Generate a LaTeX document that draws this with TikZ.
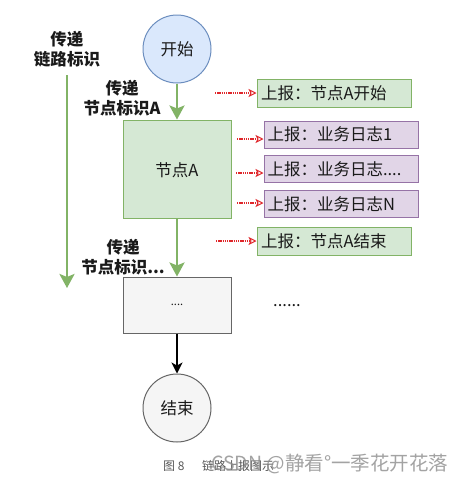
\documentclass[tikz,border=0pt]{standalone}
\usepackage{fontspec}
\setmainfont{Noto Sans CJK SC}
\usetikzlibrary{arrows.meta}
\definecolor{gfill}{HTML}{D5E8D4}
\definecolor{gline}{HTML}{82B366}
\definecolor{bfill}{HTML}{DAE8FC}
\definecolor{bline}{HTML}{6C8EBF}
\definecolor{pfill}{HTML}{E1D5E7}
\definecolor{pline}{HTML}{9673A6}
\definecolor{grfill}{HTML}{F5F5F5}
\definecolor{grline}{HTML}{666666}
\definecolor{redarr}{HTML}{E0262A}
\definecolor{txt}{HTML}{1A1A1A}
\begin{document}
\begin{tikzpicture}[x=1pt,y=-1pt,
  font=\fontsize{16.5}{18}\selectfont, text=txt,
  circ/.style={circle, minimum size=68pt, inner sep=0pt, line width=1pt},
  greport/.style={draw=gline, fill=gfill, line width=1pt, minimum width=154pt, minimum height=28pt, inner sep=0pt, text width=146pt, align=left},
  preport/.style={draw=pline, fill=pfill, line width=1pt, minimum width=154pt, minimum height=27pt, inner sep=0pt, text width=147pt, align=left},
  garrow/.style={draw=gline, line width=2.6pt, -{Stealth[length=14pt,width=15pt,inset=3pt]}},
  rarrow/.style={draw=redarr, line width=1.1pt, dash pattern=on 1.3pt off 0.9pt, -{Stealth[open,length=8pt,width=8pt,inset=2pt,sep=0pt,line width=1pt]}},
  lbl/.style={font=\fontsize{16.5}{20.5}\selectfont\bfseries, align=center, inner sep=0pt}
]
\useasboundingbox[fill=white] (0,0) rectangle (465,482);

% main flow
\node[circ, draw=bline, fill=bfill] (start) at (177,49) {开始};
\node[draw=gline, fill=gfill, line width=1pt, minimum width=108pt, minimum height=98pt, inner sep=0pt] (nodeA) at (177,169) {};
\node at (177,170) (nodeAtxt) {节点A};
\node[draw=grline, fill=grfill, line width=1pt, minimum width=108pt, minimum height=56pt, inner sep=0pt, font=\fontsize{11}{13}\selectfont] (dots) at (177,305) {....};
\node[circ, draw=grline, fill=grfill] (end) at (177,408) {结束};

\draw[garrow] (start) -- (nodeA);
\draw[garrow] (nodeA) -- (dots);
\draw[line width=1.3pt, -{Stealth[length=11pt,width=11pt,inset=3pt]}] (dots) -- (end);

% left arrow
\node[lbl] (linklbl) at (67,49) {传递\\链路标识};
\coordinate (lefttop) at (67,75);
\coordinate (leftbot) at (67,288);
\draw[garrow] (lefttop) -- (leftbot);

\node[lbl] (lblA) at (122,98) {传递\\节点标识A};
\node[lbl] (lblB) at (123,257) {传递\\节点标识...};

% report boxes
\node[greport] (r1) at (334,93) {上报：节点A开始};
\node[preport] (r2) at (341,134.5) {上报：业务日志1};
\node[preport] (r3) at (341,169) {上报：业务日志....};
\node[preport] (r4) at (341,204) {上报：业务日志N};
\node[greport] (r5) at (334,241) {上报：节点A结束};

\coordinate (a1) at (215,93);
\coordinate (a2) at (237,139);
\coordinate (a3) at (236,173);
\coordinate (a4) at (237,203);
\coordinate (a5) at (216,241);
\draw[rarrow] (a1) -- (a1 -| r1.west);
\draw[rarrow] (a2) -- (a2 -| r2.west);
\draw[rarrow] (a3) -- (a3 -| r3.west);
\draw[rarrow] (a4) -- (a4 -| r4.west);
\draw[rarrow] (a5) -- (a5 -| r5.west);

\node (more) at (287,306) {......};

% caption and watermark
\node[anchor=west, inner sep=0pt, text=black!65, font=\fontsize{12}{14}\selectfont] (fig) at (163,466) {图 8};
\node[anchor=west, inner sep=0pt, text=black!65, font=\fontsize{12}{14}\selectfont] (cap) at (202,466) {链路上报图示};
\node[anchor=west, inner sep=0pt, text=black!45, opacity=0.8, font=\fontsize{19.5}{21}\selectfont] (wm) at (211,464) {CSDN @静看°一季花开花落};
\end{tikzpicture}
\end{document}
